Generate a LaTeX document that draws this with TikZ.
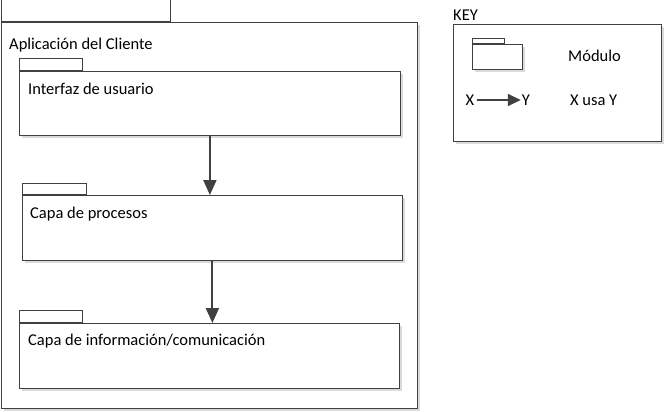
\documentclass[tikz,border=0pt]{standalone}
\usepackage{fontspec}
\setmainfont{Carlito}
\usetikzlibrary{positioning,shadows,arrows.meta}
\definecolor{linegray}{RGB}{64,64,64}
\definecolor{shadegray}{RGB}{218,218,218}
\tikzset{
  modbody/.style={draw=linegray, line width=0.8pt, fill=white, anchor=north west, inner sep=0pt,
    drop shadow={shadow xshift=3pt, shadow yshift=-3pt, fill=shadegray, opacity=1}},
  modtab/.style={draw=linegray, line width=0.8pt, fill=white, anchor=south west, inner sep=0pt},
  modlabel/.style={anchor=west, inner sep=0pt, font=\fontsize{16.5}{18}\selectfont},
  usa/.style={draw=linegray, line width=2pt, -{Triangle[length=15pt,width=13pt]}}
}
\begin{document}
\begin{tikzpicture}[x=1pt,y=-1pt]
    \useasboundingbox (0,0) rectangle (664,412);
    % client application package
    \node[modbody, minimum width=416pt, minimum height=386pt] (cliente) at (0.5,22) {};
    \node[modtab, minimum width=169pt, minimum height=22pt] (clientetab) at (cliente.north west) {};
    \node[modlabel] (clientetxt) at (9,45) {Aplicación del Cliente};
    % layers
    \node[modbody, minimum width=381pt, minimum height=64pt] (interfaz) at (19,71) {};
    \node[modtab, minimum width=63pt, minimum height=12pt] (interfaztab) at (interfaz.north west) {};
    \node[modlabel] (interfaztxt) at (28,89) {Interfaz de usuario};

    \node[modbody, minimum width=380pt, minimum height=65pt] (procesos) at (22,195) {};
    \node[modtab, minimum width=64pt, minimum height=11pt] (procesostab) at (procesos.north west) {};
    \node[modlabel] (procesostxt) at (30,214) {Capa de procesos};

    \node[modbody, minimum width=380pt, minimum height=65pt] (info) at (19,323) {};
    \node[modtab, minimum width=63pt, minimum height=12pt] (infotab) at (info.north west) {};
    \node[modlabel] (infotxt) at (28,341) {Capa de información/comunicación};

    \draw[usa] (interfaz.south) -- (interfaz.south |- procesos.north);
    \draw[usa] (procesos.south) -- (procesos.south |- info.north);

    % key
    \node[modlabel] (keytxt) at (453,15) {KEY};
    \node[modbody, minimum width=208pt, minimum height=117pt] (key) at (453,24) {};
    \node[modbody, minimum width=50pt, minimum height=25pt] (keymod) at (472,44) {};
    \node[modtab, minimum width=32pt, minimum height=5pt] (keymodtab) at (keymod.north west) {};
    \node[modlabel] (keymodtxt) at (568,56) {Módulo};
    \node[modlabel, anchor=center] (keyx) at (470,100) {X};
    \node[modlabel, anchor=center] (keyy) at (526,100) {Y};
    \draw[usa, line width=1.6pt, -{Triangle[length=13pt,width=12pt]}] ([xshift=3pt]keyx.east) -- ([xshift=-1pt]keyy.west);
    \node[modlabel] (keyusatxt) at (570,100) {X usa Y};
\end{tikzpicture}
\end{document}
